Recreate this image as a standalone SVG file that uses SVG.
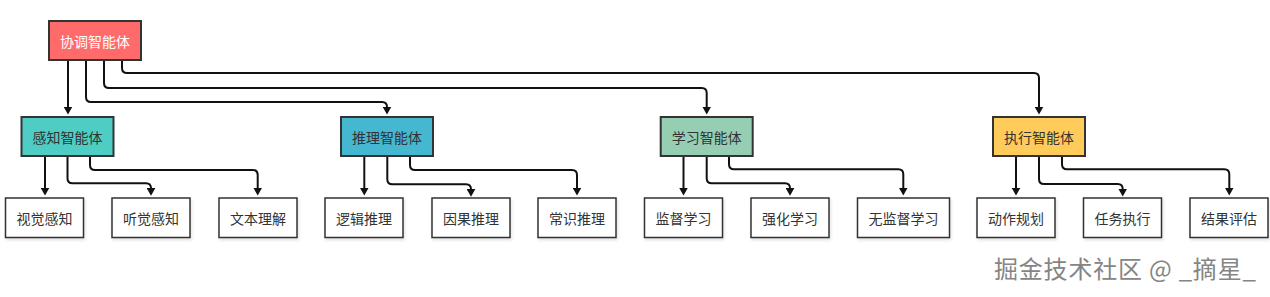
<svg xmlns="http://www.w3.org/2000/svg" width="1270" height="297" viewBox="0 0 1270 297">
<style>
  .t{font-family:"Noto Sans CJK SC","Noto Sans",sans-serif;font-size:14px;text-anchor:middle;dominant-baseline:central;fill:#333}
  .w{fill:#fff}
  .p{stroke:#333;stroke-width:2}
  .c{fill:#fff;stroke:#333;stroke-width:1.5;filter:url(#sh)}
  .e{fill:none;stroke:#111;stroke-width:2;marker-end:url(#ar)}
  .wm{font-family:"Noto Sans CJK SC","Noto Sans",sans-serif;font-size:24px;fill:#858585;letter-spacing:0.8px}
</style>
<defs>
  <marker id="ar" markerUnits="userSpaceOnUse" viewBox="0 0 8 9" markerWidth="8" markerHeight="9" refX="0.5" refY="4.5" orient="auto">
    <path d="M0,0 L8,4.5 L0,9 z" fill="#111"/>
  </marker>
  <filter id="sh" x="-10%" y="-10%" width="130%" height="140%">
    <feDropShadow dx="1" dy="2" stdDeviation="1.5" flood-color="#000" flood-opacity="0.12"/>
  </filter>
</defs>
<rect width="1270" height="297" fill="#fff"/>
<g id="connectors">
  <path class="e" d="M68,60 V107"/>
  <path class="e" d="M86,60 V97 Q86,102 91,102 H382 Q387,102 387,107"/>
  <path class="e" d="M104,60 V83 Q104,88 109,88 H701.7 Q706.7,88 706.7,93 V107"/>
  <path class="e" d="M122,60 V68 Q122,73 127,73 H1034 Q1039,73 1039,78 V107"/>

  <path class="e" d="M45,156 V188"/>
  <path class="e" d="M67.5,156 V178.3 Q67.5,183.3 72.5,183.3 H146 Q151,183.3 151,188.3"/>
  <path class="e" d="M90,156 V165 Q90,170 95,170 H252.7 Q257.7,170 257.7,175 V188"/>

  <path class="e" d="M364.3,156 V188"/>
  <path class="e" d="M387.3,156 V179.3 Q387.3,184.3 392.3,184.3 H466 Q471,184.3 471,189.3"/>
  <path class="e" d="M410,156 V165 Q410,170 415,170 H572 Q577,170 577,175 V188"/>

  <path class="e" d="M683.5,156 V188"/>
  <path class="e" d="M706.7,156 V178.3 Q706.7,183.3 711.7,183.3 H785 Q790,183.3 790,188.3"/>
  <path class="e" d="M729,156 V164.3 Q729,169.3 734,169.3 H898.3 Q903.3,169.3 903.3,174.3 V188"/>

  <path class="e" d="M1016,156 V188"/>
  <path class="e" d="M1039,156 V179 Q1039,184 1044,184 H1117.7 Q1122.7,184 1122.7,189"/>
  <path class="e" d="M1062,156 V164.3 Q1062,169.3 1067,169.3 H1224.3 Q1229.3,169.3 1229.3,174.3 V188"/>
</g>
<g id="coordinator">
  <rect class="p" x="49" y="21" width="92" height="39" fill="#ff6b6b"/>
  <text class="t w" x="95" y="40.5">协调智能体</text>
</g>
<g id="perception">
  <rect class="p" x="21.5" y="117" width="92" height="39" fill="#4ecdc4"/>
  <text class="t" x="67.5" y="136.5">感知智能体</text>
</g>
<g id="reasoning">
  <rect class="p" x="341" y="117" width="92" height="39" fill="#45b7d1"/>
  <text class="t" x="387" y="136.5">推理智能体</text>
</g>
<g id="learning">
  <rect class="p" x="660.7" y="117" width="92" height="39" fill="#96ceb4"/>
  <text class="t" x="706.7" y="136.5">学习智能体</text>
</g>
<g id="execution">
  <rect class="p" x="993" y="117" width="92" height="39" fill="#ffcc5c"/>
  <text class="t" x="1039" y="136.5">执行智能体</text>
</g>
<g id="visual"><rect class="c" x="5.5" y="198" width="78" height="39.5"/><text class="t" x="44.5" y="218">视觉感知</text></g>
<g id="auditory"><rect class="c" x="112" y="198" width="78" height="39.5"/><text class="t" x="151" y="218">听觉感知</text></g>
<g id="text-understanding"><rect class="c" x="219" y="198" width="78" height="39.5"/><text class="t" x="258" y="218">文本理解</text></g>
<g id="logic"><rect class="c" x="325" y="198" width="78" height="39.5"/><text class="t" x="364" y="218">逻辑推理</text></g>
<g id="causal"><rect class="c" x="432" y="198" width="78" height="39.5"/><text class="t" x="471" y="218">因果推理</text></g>
<g id="commonsense"><rect class="c" x="538" y="198" width="78" height="39.5"/><text class="t" x="577" y="218">常识推理</text></g>
<g id="supervised"><rect class="c" x="644.5" y="198" width="78" height="39.5"/><text class="t" x="683.5" y="218">监督学习</text></g>
<g id="reinforcement"><rect class="c" x="751" y="198" width="78" height="39.5"/><text class="t" x="790" y="218">强化学习</text></g>
<g id="unsupervised"><rect class="c" x="857.5" y="198" width="92" height="39.5"/><text class="t" x="903.5" y="218">无监督学习</text></g>
<g id="planning"><rect class="c" x="977" y="198" width="78" height="39.5"/><text class="t" x="1016" y="218">动作规划</text></g>
<g id="task-exec"><rect class="c" x="1083.5" y="198" width="78" height="39.5"/><text class="t" x="1122.5" y="218">任务执行</text></g>
<g id="evaluation"><rect class="c" x="1190" y="198" width="78" height="39.5"/><text class="t" x="1229" y="218">结果评估</text></g>
<text class="wm" x="994" y="278">掘金技术社区 @ _摘星_</text>
</svg>
